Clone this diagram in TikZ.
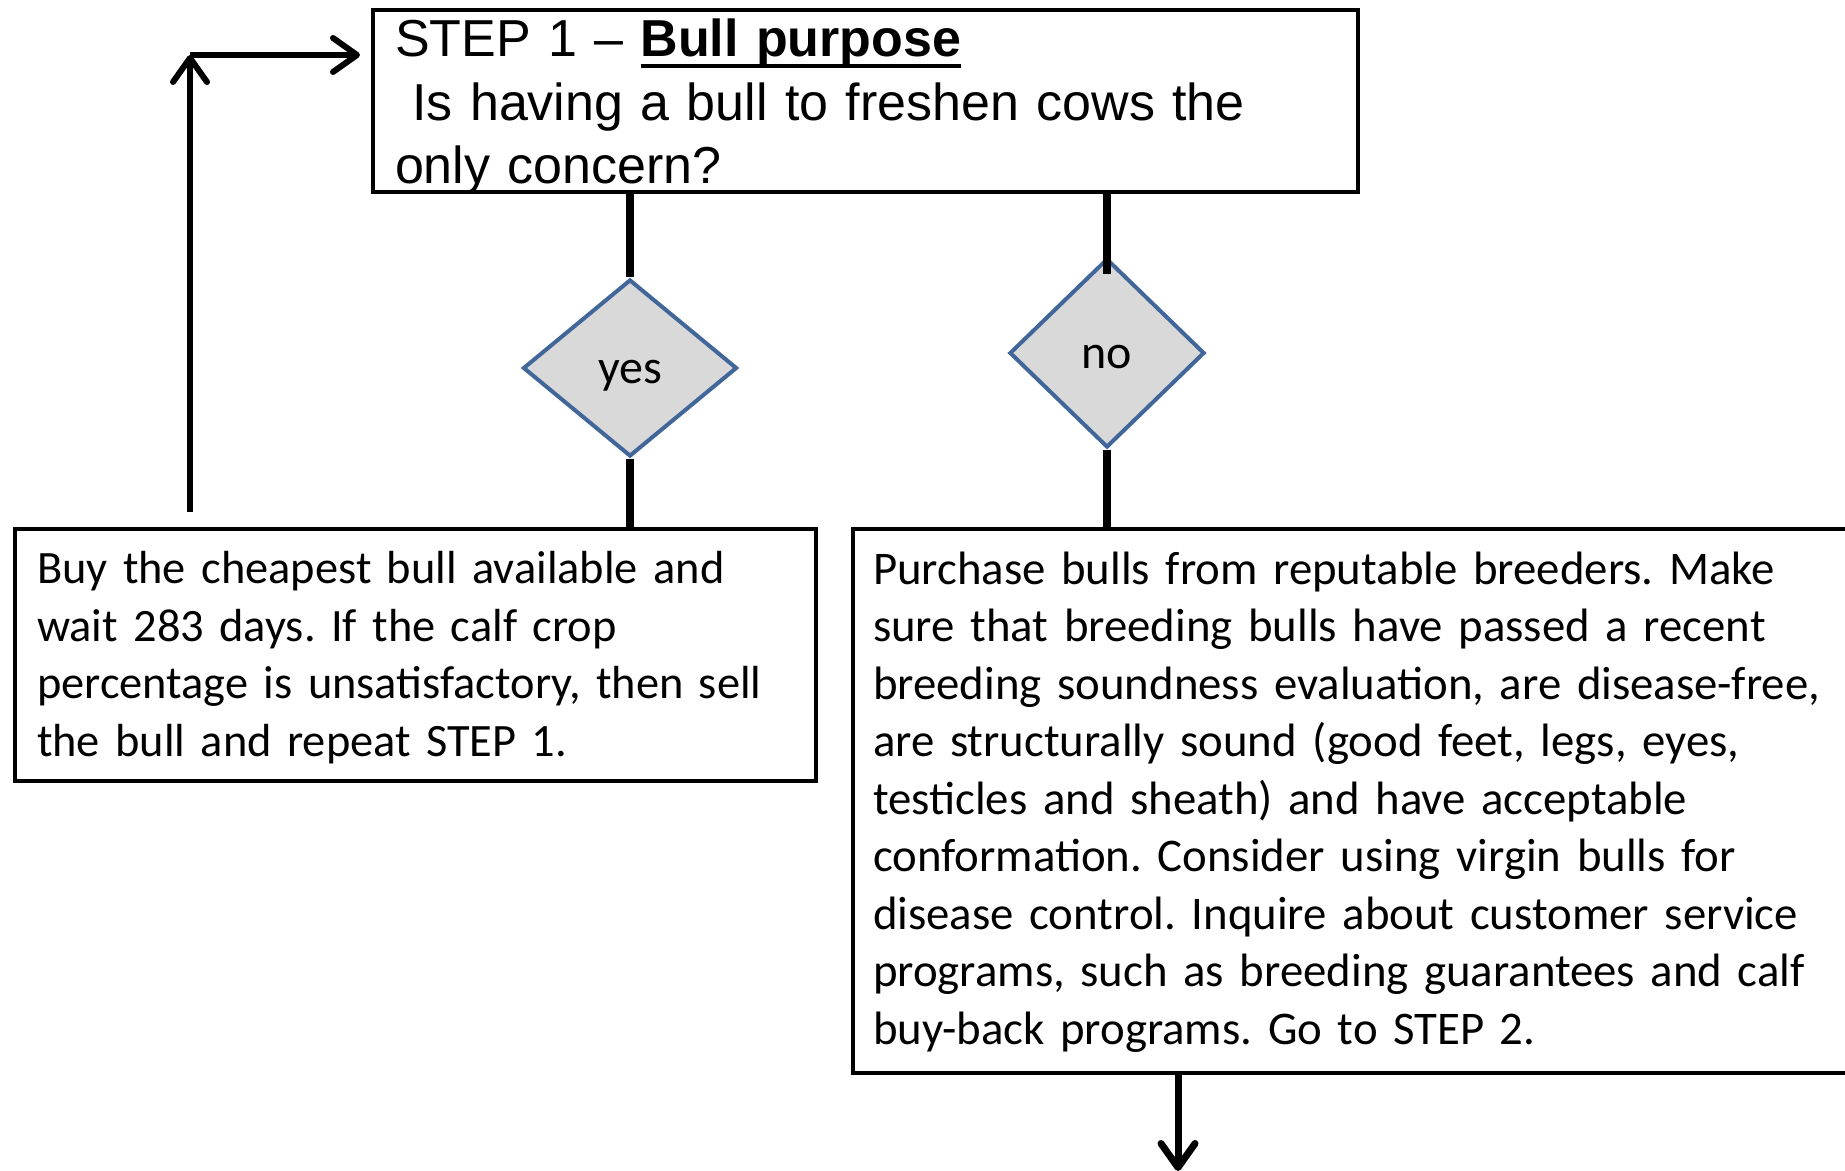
\documentclass[tikz,border=0pt]{standalone}
\usepackage{fontspec}
\setmainfont{Carlito}
\newfontfamily\arialfont{Liberation Sans}
\usepackage{tikz}
\usetikzlibrary{shapes.geometric}
\usetikzlibrary{arrows.meta}
\usetikzlibrary{positioning}
\usepackage{xcolor}
\definecolor{dedge}{HTML}{41669A}
\definecolor{dfill}{HTML}{D9D9D9}
\newcommand\thickul[1]{\setbox0\hbox{#1}\rlap{\rule[-5.3pt]{\wd0}{1.7pt}}\box0}
\frenchspacing
\tikzset{
  stepbox/.style={draw, line width=2pt, anchor=north west, inner sep=0pt, align=left},
  choice/.style={diamond, draw=dedge, fill=dfill, line width=2pt, inner sep=0pt,
    font=\fontsize{24}{29}\selectfont, text height=20pt, text depth=4.5pt},
  link/.style={line width=4pt},
  backarrow/.style={line width=3pt, -{Straight Barb[length=12pt,width=17pt,round]}}
}
\begin{document}
\begin{tikzpicture}[x=0.5pt,y=-0.5pt]
\useasboundingbox (0,0) rectangle (1845,1171);
\node[stepbox, minimum width=492.5pt, minimum height=91pt, text width=470.5pt,
  font=\arialfont\fontsize{26}{31.75}\selectfont] (q) at (371,8)
  {\rule{0pt}{19.5pt}STEP 1 – \thickul{\textbf{Bull purpose}}\\
   \mbox{}\ Is having a bull to freshen cows the\\
   \smash{only concern?}};
\node[choice, minimum width=107pt, minimum height=88.5pt] (yes) at (630,368) {yes};
\node[choice, minimum width=97.5pt, minimum height=94.5pt] (no) at (1107,353) {no};
\node[stepbox, minimum width=400.5pt, minimum height=126pt, text width=378.5pt,
  font=\fontsize{23.2}{28.75}\selectfont] (buy) at (13,527)
  {\rule{0pt}{20pt}Buy the cheapest bull available and\\
   wait 283 days. If the calf crop\\
   percentage is unsatisfactory, then sell\\
   the bull and repeat STEP 1.\rule[-5pt]{0pt}{5pt}};
\node[stepbox, minimum width=550pt, minimum height=272pt, text width=530pt,
  font=\fontsize{23.4}{28.75}\selectfont] (purchase) at (851,527)
  {\rule{0pt}{20pt}Purchase bulls from reputable breeders. Make\\
   sure that breeding bulls have passed a recent\\
   breeding soundness evaluation, are disease-free,\\
   are structurally sound (good feet, legs, eyes,\\
   testicles and sheath) and have acceptable\\
   conformation. Consider using virgin bulls for\\
   disease control. Inquire about customer service\\
   programs, such as breeding guarantees and calf\\
   buy-back programs. Go to STEP 2.\rule[-7pt]{0pt}{7pt}};
\draw[link] (q.south -| yes.north) -- (yes.north);
\draw[link] (yes.south) -- (yes.south |- buy.north);
\draw[link] (q.south -| no.north) -- ([yshift=-9pt]no.north);
\draw[link] (no.south) -- (no.south |- purchase.north);
\coordinate (turn) at (190,55);
\coordinate (qin) at (360,55);
\draw[backarrow] (buy.north west) ++(177,-15) -- (turn);
\draw[backarrow] (turn) -- (qin);
\coordinate (next) at (1178,1171);
\draw[backarrow, line width=3.5pt] (purchase.south -| next) -- (next);
\end{tikzpicture}
\end{document}
